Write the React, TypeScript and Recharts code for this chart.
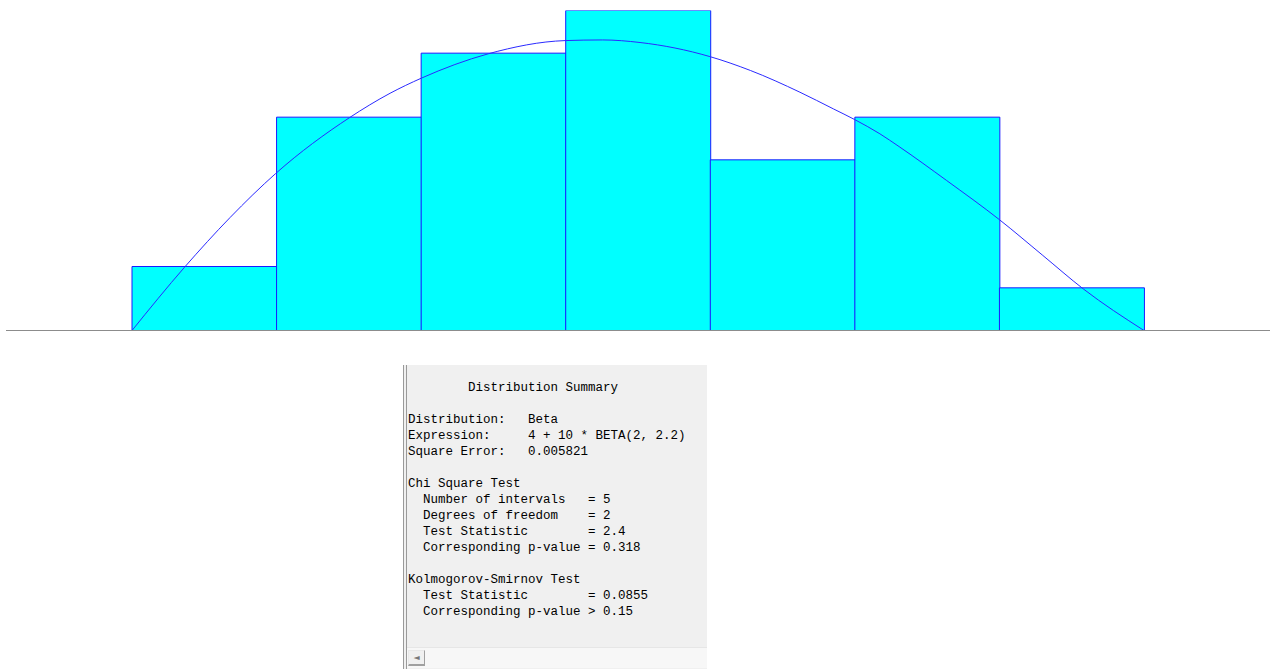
import React from "react";
import { Bar, ComposedChart, Line, XAxis, YAxis } from "recharts";

// histogram intervals (width 10/7 over 4..14) and counts per interval
const binLabels = ["4.0", "5.4", "6.9", "8.3", "9.7", "11.1", "12.6"];
const binCounts = [3, 10, 13, 15, 8, 10, 2];

// fitted density curve (same scale as counts)
const curveX = [4.0, 4.52, 4.97, 5.42, 6.15, 6.55, 6.86, 7.52, 8.28, 8.65, 9.02, 9.71, 10.11, 10.6, 10.93, 11.14, 11.39, 11.58, 12.05, 12.57, 13.0, 13.4, 14.0];
const curveY = [0, 2.97, 5.3, 7.36, 9.98, 11.12, 11.83, 12.97, 13.59, 13.62, 13.5, 12.84, 12.19, 11.17, 10.39, 9.89, 9.22, 8.62, 7.03, 5.2, 3.52, 1.95, 0];

const summaryLines = [
  "        Distribution Summary",
  "",
  "Distribution:   Beta",
  "Expression:     4 + 10 * BETA(2, 2.2)",
  "Square Error:   0.005821",
  "",
  "Chi Square Test",
  "  Number of intervals   = 5",
  "  Degrees of freedom    = 2",
  "  Test Statistic        = 2.4",
  "  Corresponding p-value = 0.318",
  "",
  "Kolmogorov-Smirnov Test",
  "  Test Statistic        = 0.0855",
  "  Corresponding p-value > 0.15",
];

const bars = binLabels.map((name, i) => ({ name, count: binCounts[i] }));
const curve = curveX.map((x, i) => ({ x, y: curveY[i] }));

const PAD = { left: 126, right: 126 };

export default function App() {
  return (
    <div style={{ position: "absolute", left: 0, top: 0, width: 1278, height: 669, background: "#fff", overflow: "hidden" }}>
      <ComposedChart
        width={1278}
        height={331.5}
        data={bars}
        margin={{ top: 10.5, right: 8, bottom: 0, left: 6 }}
        barCategoryGap={0}
      >
        <XAxis
          xAxisId="cat"
          dataKey="name"
          height={1}
          tick={false}
          tickLine={false}
          axisLine={{ stroke: "#8c8c8c" }}
          padding={PAD}
        />
        <XAxis
          xAxisId="num"
          dataKey="x"
          type="number"
          domain={[4, 14]}
          allowDataOverflow
          hide
          padding={PAD}
        />
        <YAxis domain={[0, 15]} hide allowDataOverflow />
        <Bar
          xAxisId="cat"
          dataKey="count"
          fill="#00ffff"
          stroke="#1a1aff"
          strokeWidth={1}
          isAnimationActive={false}
        />
        <Line
          xAxisId="num"
          data={curve}
          dataKey="y"
          type="monotone"
          stroke="#2a2aff"
          strokeWidth={1}
          dot={false}
          activeDot={false}
          isAnimationActive={false}
        />
      </ComposedChart>

      <div
        style={{
          position: "absolute",
          left: 403,
          top: 365,
          width: 304,
          height: 304,
          background: "#f0f0f0",
          borderLeft: "4px double #9a9a9a",
          boxSizing: "border-box",
        }}
      >
        <pre
          style={{
            margin: 0,
            padding: "15px 0 0 1px",
            fontFamily: "'Liberation Mono', 'Courier New', monospace",
            fontSize: 12.5,
            lineHeight: "16px",
            color: "#000",
          }}
        >
          {summaryLines.join("\n")}
        </pre>
        <div
          style={{
            position: "absolute",
            left: 0,
            right: 0,
            bottom: 1,
            height: 20,
            background: "#f7f7f7",
            borderTop: "1px solid #e6e6e6",
          }}
        >
          <div
            style={{
              position: "absolute",
              left: 1,
              top: 2,
              width: 17,
              height: 16,
              borderLeft: "1px solid #e8e8e8",
              borderTop: "1px solid #e8e8e8",
              borderRight: "1px solid #a0a0a0",
              borderBottom: "2px solid #a0a0a0",
              background: "#f0f0f0",
              boxSizing: "border-box",
              fontSize: 8,
              lineHeight: "14px",
              textAlign: "center",
              color: "#777",
              fontFamily: "'DejaVu Sans', sans-serif",
            }}
          >
            ◄
          </div>
        </div>
      </div>
    </div>
  );
}
